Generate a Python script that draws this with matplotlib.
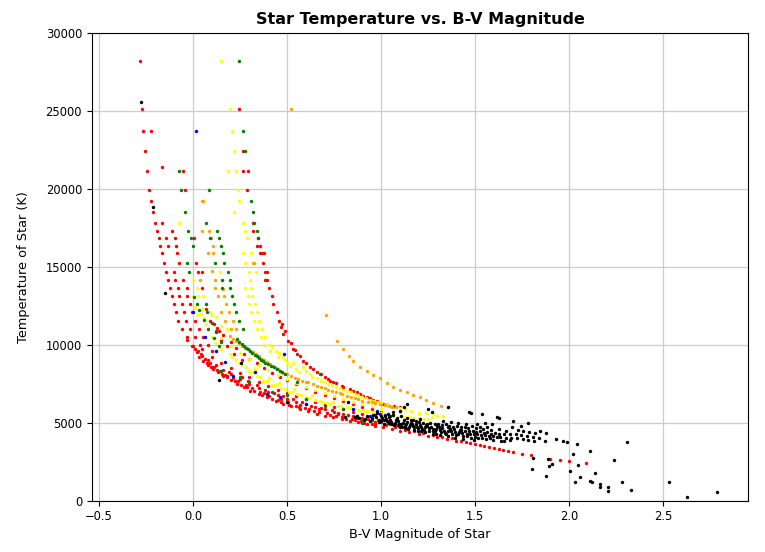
import matplotlib
matplotlib.use("Agg")
import matplotlib.pyplot as plt

# ---------------- data: (B-V, Temperature K) ----------------
red_points = [
    # lower envelope
    (-0.282,28200),(-0.274,25130),(-0.264,23700),(-0.254,22400),(-0.243,21150),(-0.232,19940),
    (-0.223,19190),(-0.211,18480),(-0.202,17800),(-0.191,17300),(-0.183,16820),(-0.174,16300),
    (-0.165,15850),(-0.152,15240),(-0.144,14680),(-0.131,14170),(-0.122,13610),(-0.113,13100),
    (-0.101,12610),(-0.09,12070),(-0.078,11540),(-0.06,11000),(-0.034,10470),(-0.007,9940),
    (0.02,9510),(0.055,8970),(0.08,8700),(0.108,8440),(0.135,8220),(0.161,8010),(0.2,7740),
    (0.232,7480),(0.27,7260),(0.303,7050),(0.35,6840),(0.392,6620),(0.44,6410),(0.48,6200),
    (0.52,6040),(0.569,5880),(0.61,5720),(0.658,5560),(0.7,5450),(0.746,5340),(0.79,5230),
    (0.835,5130),(0.88,5020),(0.924,4910),(0.97,4800),(1.012,4700),(1.06,4590),(1.1,4480),
    (1.15,4380),(1.2,4270),(1.25,4160),(1.3,4060),(1.35,3950),(1.4,3850),(1.45,3740),
    (1.5,3650),(1.55,3520),(1.6,3400),(1.65,3260),(1.7,3100),(1.75,3000),(1.8,2900),
    (1.9,2700),(1.95,2620),(2.0,2550),(2.09,2450),
    # dense band above the envelope
    (-0.03,10300),(0.0,9900),(0.04,9400),(0.08,9000),(0.12,8700),(0.16,8400),(0.2,8100),
    (0.25,7800),(0.3,7500),(0.35,7200),(0.4,6950),(0.45,6750),(0.5,6550),(0.55,6350),
    (0.6,6180),(0.65,6000),(0.7,5850),(0.75,5700),(0.8,5560),(0.85,5420),(0.9,5300),
    (0.95,5180),(1.0,5060),(1.05,4950),
    (0.05,9700),(0.1,9200),(0.15,8850),(0.2,8500),(0.25,8200),(0.3,7900),(0.35,7600),
    (0.4,7350),(0.45,7100),(0.5,6900),(0.55,6700),(0.6,6500),(0.65,6300),(0.7,6150),
    (0.75,6000),(0.8,5850),(0.85,5700),(0.9,5560),
    (0.03,9200),(0.1,8600),(0.18,8000),(0.28,7400),(0.38,6900),(0.47,6500),(0.57,6150),
    (0.67,5850),(0.77,5550),(0.87,5300),(0.97,5050),
    (0.013,9750),(0.027,9600),(0.045,9250),(0.062,9100),(0.073,8850),(0.091,8800),(0.097,8600),
    (0.113,8550),(0.127,8350),(0.143,8300),(0.152,8150),(0.171,8050),(0.183,7900),(0.193,8250),
    (0.214,7850),(0.223,7650),(0.241,7700),(0.256,7450),(0.263,7950),(0.287,7300),(0.294,7650),
    (0.312,7250),(0.326,7050),(0.338,7450),(0.357,7000),(0.366,6800),(0.384,7100),(0.405,6700),
    (0.418,6550),(0.433,6900),(0.452,6450),(0.467,6350),(0.478,6700),(0.506,6300),(0.513,6150),
    (0.531,6500),(0.548,6100),(0.563,6000),(0.578,6300),(0.593,5950),(0.618,5850),(0.627,6100),
    (0.644,5750),(0.672,5700),(0.683,5950),(0.712,5600),(0.726,5500),(0.737,5800),(0.762,5450),
    (0.771,5650),(0.793,5350),(0.812,5250),(0.823,5500),(0.846,5250),(0.862,5150),(0.873,5400),
    (0.894,5100),(0.912,5000),(0.933,5250),(0.951,4950),(0.968,4900),(0.983,5150),(1.025,4850),
    (1.038,5000),(1.075,4700),(1.085,4850),(1.125,4550),(1.135,4650),(1.175,4450),(1.225,4330),
    (1.275,4220),(1.325,4110),(1.375,4000),(1.425,3800),(1.475,3700),(1.525,3600),(1.575,3460),
    (1.625,3330),(1.675,3180),
    # second and third left curves
    (-0.223,23700),(-0.167,21400),(-0.163,17800),(-0.144,16820),(-0.133,16300),(-0.101,14680),
    (-0.096,14170),(-0.078,13610),(-0.073,13100),(-0.057,12610),(-0.048,12070),(-0.035,11540),
    (-0.015,11000),(0.01,10470),(0.035,10000),
    (-0.113,17300),(-0.096,16820),(-0.09,16300),(-0.087,15850),(-0.074,15240),(-0.052,14170),
    (-0.034,13610),(-0.034,13100),(-0.016,12610),(-0.005,12070),(0.01,11540),(0.03,11000),
    (0.055,10470),(0.08,10000),(0.1,9600),
    (-0.052,21150),(-0.043,19940),(0.007,16820),(0.016,15240),(0.025,14680),(0.048,14680),
    (0.049,13610),(0.07,12300),(0.09,11500),(0.12,10900),(0.15,10300),(0.18,9900),
    (0.22,9400),(0.26,9000),
    # upper right curve
    (0.246,25130),(0.268,22400),(0.268,21150),(0.294,21150),(0.289,19940),(0.317,17800),
    (0.317,17300),(0.347,16820),(0.339,16300),(0.356,16300),(0.356,15850),(0.367,15850),
    (0.378,15850),(0.371,15240),(0.383,14680),(0.395,14680),(0.385,14170),(0.395,14170),
    (0.404,13610),(0.418,13100),(0.427,12610),(0.445,12070),(0.455,11540),(0.47,11110),
    (0.48,10680),(0.507,10260),(0.534,9720),(0.552,9400),(0.587,8975),(0.622,8540),
    (0.658,8225),(0.7,7900),(0.729,7690),(0.746,7580),(0.79,7350),(0.835,7160),(0.87,6950),
    (0.906,6730),(0.924,6620),(0.96,6450),(1.012,6200),(1.048,6100),(1.1,5980),
    (0.475,11300),(0.49,10900),(0.52,10100),(0.545,9650),(0.57,9250),(0.6,8850),(0.64,8450),
    (0.68,8100),(0.72,7800),(0.76,7550),(0.8,7320),(0.85,7050),(0.89,6850),(0.94,6600),
    (0.98,6400),(1.03,6200),(1.07,6050),
    # middle mixed curve
    (0.11,11300),(0.14,10900),(0.13,11100),(0.16,10600),(0.2,10200),(0.23,9800),(0.27,9400),
    (0.3,9100),(0.34,8800),(0.38,8500),(0.42,8200),(0.46,7950),(0.5,7750),(0.55,7500),
    (0.6,7250),(0.65,7000),(0.7,6800),(0.75,6600),(0.8,6400),(0.85,6200),(0.9,6000),
    (0.95,5850),(1.0,5700),
]

yellow_points = [
    (0.147,28200),(0.197,25130),(0.207,23700),(0.218,22400),(0.188,21150),(0.227,21150),
    (0.238,19940),(0.246,19190),(0.218,18480),(0.268,17800),(0.278,17300),(0.289,16820),
    (0.268,15850),(0.307,15850),(0.278,15240),(0.298,14680),(0.335,14680),(0.303,14170),
    (0.277,13610),(0.309,13610),(0.294,13100),(0.314,13100),(0.298,12610),(0.33,12610),
    (0.31,12070),(0.34,12070),(0.325,11540),(0.35,11540),(0.339,11000),(0.365,11000),
    (0.36,10470),(0.385,10470),(0.38,10000),(0.41,10000),(0.41,9600),(0.44,9600),
    (0.45,9200),(0.48,9200),(0.5,8800),(0.53,8800),(0.55,8450),(0.6,8330),(0.62,8100),
    (0.66,7850),(0.7,7600),(0.74,7400),(0.78,7200),(0.818,7050),(0.86,6850),(0.9,6650),
    (0.94,6480),(0.98,6300),(1.03,6200),(1.08,6000),(1.13,5850),(1.2,5650),
    (0.42,9850),(0.455,9450),(0.49,9050),(0.515,8650),(0.565,8250),(0.585,8550),(0.635,7950),
    (0.68,7700),(0.72,7500),(0.76,7300),(0.8,7100),(0.84,6950),(0.88,6750),(0.92,6580),
    (0.96,6380),(1.0,6250),(1.05,6100),(1.1,5950),(1.16,5780),(1.24,5600),(1.28,5550),
    (1.33,5450),
    (-0.074,17800),(0.144,14680),(-0.002,14170),(0.02,13610),(0.002,13100),(0.028,13100),
    (0.055,13100),
    (0.04,12000),(0.06,11700),(0.08,11000),(0.1,10500),(0.12,10100),(0.15,9700),(0.197,9400),
    (0.23,9000),(0.26,8700),(0.3,8300),(0.34,8000),(0.374,7690),(0.42,7450),(0.47,7200),
    (0.51,7000),(0.552,6840),(0.6,6650),(0.65,6480),(0.69,6330),(0.729,6200),(0.77,6090),
    (0.82,5980),(0.86,5880),(0.906,5770),(0.95,5680),(1.0,5600),(1.05,5500),(1.1,5420),
    (1.15,5350),(1.2,5280),(1.25,5220),
    (0.205,9200),(0.245,8850),(0.283,8550),(0.315,8250),(0.328,8450),(0.355,7950),(0.392,7650),
    (0.405,7850),(0.438,7400),(0.455,7550),(0.49,7150),(0.525,6950),(0.538,7150),(0.575,6750),
    (0.615,6600),(0.632,6800),(0.675,6400),(0.712,6250),(0.745,6350),(0.785,6100),(0.842,5950),
    (0.883,5800),(0.925,5750),(0.965,5650),(1.015,5550),(1.065,5450),(1.125,5380),(1.175,5300),
    (1.23,5250),(1.27,5350),
    (0.15,10400),(0.2,9900),(0.25,9500),(0.3,9100),(0.35,8700),(0.4,8350),(0.45,8050),
    (0.5,7800),(0.55,7550),(0.6,7300),(0.65,7100),(0.7,6900),(0.75,6700),(0.8,6500),
    (0.85,6330),(0.9,6180),(0.95,6050),(1.0,5900),(1.1,5700),(1.2,5550),(1.3,5400),
    (0.01,12400),(0.05,12300),(0.09,12100),(0.02,11900),(0.12,11800),(0.07,11300),
    (0.15,11200),(0.1,11900),(0.18,11000),
]

orange_points = [
    (0.52,25130),(0.707,11900),(0.768,10210),(0.8,9720),(0.83,9290),(0.853,8970),(0.888,8590),
    (0.924,8330),(0.96,8080),(0.995,7860),(1.03,7570),(1.066,7300),(1.1,7120),(1.137,6940),
    (1.17,6780),(1.207,6620),(1.24,6430),(1.278,6240),(1.32,6100),(1.358,5980),
    (0.197,10580),(0.23,10250),(0.26,9950),(0.29,9700),(0.32,9510),(0.35,9250),(0.38,9000),
    (0.41,8760),(0.44,8530),(0.463,8330),(0.5,8100),(0.54,7870),(0.58,7700),(0.61,7580),
    (0.64,7480),(0.68,7280),(0.72,7100),(0.76,6950),(0.79,6830),(0.818,6730),(0.86,6560),
    (0.9,6420),(0.95,6300),(0.995,6200),(1.04,6080),(1.08,5990),
    (0.215,10350),(0.245,10100),(0.275,9800),(0.305,9600),(0.335,9400),(0.365,9100),(0.395,8900),
    (0.425,8650),(0.452,8450),(0.48,8200),(0.52,8000),(0.56,7780),(0.6,7620),(0.66,7380),
    (0.7,7200),(0.74,7020),(0.78,6880),(0.84,6650),(0.88,6500),(0.93,6350),(0.97,6250),
    (1.02,6150),(1.06,6030),
    (0.048,19190),(0.051,19190),(0.048,17300),(0.087,17300),(0.093,16820),(0.108,16300),
    (0.078,15850),(0.108,15850),(0.099,14700),(0.037,14170),(0.117,14170),(0.117,13610),
    (0.161,13570),(0.131,13100),(0.167,13100),(0.176,12610),(0.15,12070),(0.19,12070),
    (0.17,11540),(0.21,11540),(0.2,11000),(0.23,11000),(0.317,15240),(0.324,15240),
]

green_points = [
    (0.246,28200),(0.268,23700),(0.277,22400),(0.307,19190),(0.317,18480),(0.324,17800),
    (0.339,17300),(0.347,16820),
    (-0.074,21150),(-0.064,19940),(-0.043,18480),(-0.025,17300),(-0.012,16820),(-0.002,16300),
    (-0.034,15240),(-0.021,14680),(0.005,13030),
    (0.087,19940),(0.067,17800),(0.126,17300),(0.09,16820),(0.14,16820),(0.149,16300),
    (0.158,15850),(0.117,15240),(0.167,15240),(0.185,14680),(0.152,14170),(0.197,14170),
    (0.156,13610),(0.197,13610),(0.209,13100),(0.22,12610),(0.23,12070),(0.245,11540),
    (0.268,11000),
    (0.232,10360),(0.26,10050),(0.28,9800),(0.303,9620),(0.33,9350),(0.35,9150),(0.374,8970),
    (0.4,8750),(0.43,8550),(0.463,8330),(0.489,8120),
    (0.245,10200),(0.27,9900),(0.29,9700),(0.315,9500),(0.34,9250),(0.362,9050),(0.385,8850),
    (0.415,8650),(0.445,8450),(0.475,8220),
    (0.02,12610),(0.069,12610),(0.03,12200),(0.075,12100),(0.06,11600),(0.1,11400),
    (0.08,11000),(0.12,10800),(0.11,10400),(0.15,10200),(0.14,9900),
    (0.15,8300),(0.25,7900),(0.3,7600),(0.42,7000),(0.5,6800),(0.6,6500),(0.7,6100),
    (0.8,5900),(0.95,5200),(0.9,5000),(0.552,7580),(0.675,8120),
]

blue_points = [
    (0.016,23700),(0.0,12070),(0.064,10470),(0.17,8870),(0.33,8220),(0.392,6840),(0.463,6620),
    (0.484,9400),(0.94,5450),(0.97,5500),(0.995,5560),(1.02,5510),(1.05,5450),(0.977,5770),
    (0.6,6200),(0.85,5900),(0.21,8000),(0.12,9600),
]

black_points = [
    (-0.275,25550),(-0.215,18850),(-0.149,13330),(0.138,7740),(0.255,8800),(0.498,6300),
    (0.826,6300),(0.81,5340),(0.86,5340),(1.0,5130),(1.066,5660),(1.12,5980),(1.358,5980),
    (1.1,5770),(1.14,6200),
    (0.883,5300),(0.874,5450),(0.917,5250),(0.926,5400),(0.909,5150),(0.952,5300),(0.944,5100),
    (0.958,5500),(0.987,5200),(0.973,5350),(0.991,5050),(0.979,5600),(1.014,5150),(1.006,5300),
    (1.018,4950),(1.002,5450),(1.033,5100),(1.027,5250),(1.041,5000),(1.022,5400),(1.036,5550),
    (1.055,5050),(1.048,5200),(1.061,4900),(1.044,5350),(1.072,5000),(1.079,5150),(1.067,4850),
    (1.083,5300),(1.064,5500),(1.094,4950),(1.088,5100),(1.097,4800),(1.085,5250),(1.103,4700),
    (1.116,5000),(1.107,4900),(1.122,5200),(1.113,4750),(1.104,5400),(1.134,4900),(1.128,4800),
    (1.139,5050),(1.125,4650),(1.136,5300),(1.155,4850),(1.148,4750),(1.158,5000),(1.146,4600),
    (1.161,5200),(1.172,4800),(1.166,4950),(1.178,4700),(1.169,5150),(1.176,4550),(1.193,4750),
    (1.187,4900),(1.197,4650),(1.184,5100),(1.195,4500),(1.213,4700),(1.206,4850),(1.218,4600),
    (1.204,5050),(1.215,4450),(1.208,5250),(1.234,4700),(1.227,4550),(1.238,4850),(1.225,5000),
    (1.236,4400),(1.253,4650),(1.246,4800),(1.257,4500),(1.244,4950),(1.25,5880),(1.274,4600),
    (1.266,4750),(1.278,4450),(1.263,5000),(1.27,5660),(1.275,4300),(1.294,4600),(1.287,4450),
    (1.297,4800),(1.285,4950),(1.293,4250),(1.313,4550),(1.306,4700),(1.318,4400),(1.304,4900),
    (1.315,4200),(1.334,4500),(1.327,4650),(1.338,4350),(1.326,4850),(1.332,5100),(1.354,4500),
    (1.347,4300),(1.358,4700),(1.344,4900),(1.356,4150),(1.373,4450),(1.366,4600),(1.378,4250),
    (1.364,4800),(1.372,5050),(1.394,4400),(1.387,4600),(1.397,4200),(1.385,4750),(1.392,4050),
    (1.414,4400),(1.407,4250),(1.418,4550),(1.405,4800),(1.412,5000),(1.433,4350),(1.426,4550),
    (1.437,4150),(1.425,4700),(1.436,3950),(1.455,4300),(1.447,4500),(1.458,4150),(1.446,4750),
    (1.452,4950),(1.474,4300),(1.467,4450),(1.478,4050),(1.465,4650),(1.47,5660),(1.494,4250),
    (1.487,4500),(1.498,4100),(1.485,4800),(1.493,3900),(1.48,5620),(1.513,4250),(1.506,4400),
    (1.518,4000),(1.505,4650),(1.512,4950),(1.534,4200),(1.527,4450),(1.538,4050),(1.525,4750),
    (1.535,5560),(1.555,4200),(1.547,4350),(1.558,3950),(1.545,4600),(1.552,5000),(1.573,4150),
    (1.566,4400),(1.578,4000),(1.565,4700),(1.594,4150),(1.587,4300),(1.597,3900),(1.584,4550),
    (1.592,4900),(1.615,4100),(1.608,4350),(1.615,5340),(1.634,4100),(1.627,4250),(1.638,3850),
    (1.625,4600),(1.63,5300),(1.663,4050),(1.655,4300),(1.667,4500),(1.653,3800),(1.694,4000),
    (1.686,4250),(1.697,4700),(1.684,3900),(1.70,5130),(1.724,4000),(1.716,4300),(1.727,4550),
    (1.753,3950),(1.746,4200),(1.757,4450),(1.744,4800),(1.784,3900),(1.776,4150),(1.78,4960),
    (1.787,4400),(1.813,3850),(1.806,4100),(1.817,4350),(1.845,4490),(1.838,4000),(1.88,4320),
    (1.872,3850),(1.93,3960),(1.97,3850),(1.99,3740),(2.04,3630),(2.11,3200),(2.02,2990),
    (1.81,2740),(1.805,2030),(1.89,2670),(1.895,2240),(1.88,1600),(1.91,2350),(2.005,1920),
    (2.03,1170),(2.05,2300),(2.06,1500),(2.11,1280),(2.12,1170),(2.14,1750),(2.165,1070),
    (2.165,850),(2.21,900),(2.21,640),(2.24,2630),(2.28,1220),(2.31,3780),(2.33,690),
    (2.53,1170),(2.63,260),(2.79,530),
]

series = [
    (red_points, "red"),
    (yellow_points, "yellow"),
    (orange_points, "orange"),
    (green_points, "green"),
    (blue_points, "blue"),
    (black_points, "black"),
]

# ---------------- plot ----------------
fig = plt.figure(figsize=(7.65, 5.52), dpi=100)
ax = fig.add_axes([0.1199, 0.0929, 0.8583, 0.8478])

for pts, col in series:
    xs = [p[0] for p in pts]
    ys = [p[1] for p in pts]
    ax.scatter(xs, ys, s=6, c=col, linewidths=0, zorder=3)

ax.set_xlim(-0.539, 2.954)
ax.set_ylim(0, 30000)
ax.set_xticks([-0.5, 0.0, 0.5, 1.0, 1.5, 2.0, 2.5])
ax.set_yticks([0, 5000, 10000, 15000, 20000, 25000, 30000])
ax.grid(True, color="#cccccc", linewidth=0.9, zorder=0)
ax.set_axisbelow(True)
ax.tick_params(labelsize=8.3)

ax.set_title("Star Temperature vs. B-V Magnitude", fontsize=11.5, fontweight="bold", pad=6)
ax.set_xlabel("B-V Magnitude of Star", fontsize=9.3, labelpad=3)
ax.set_ylabel("Temperature of Star (K)", fontsize=9.3, labelpad=11)

fig.savefig("out.png", dpi=100)
